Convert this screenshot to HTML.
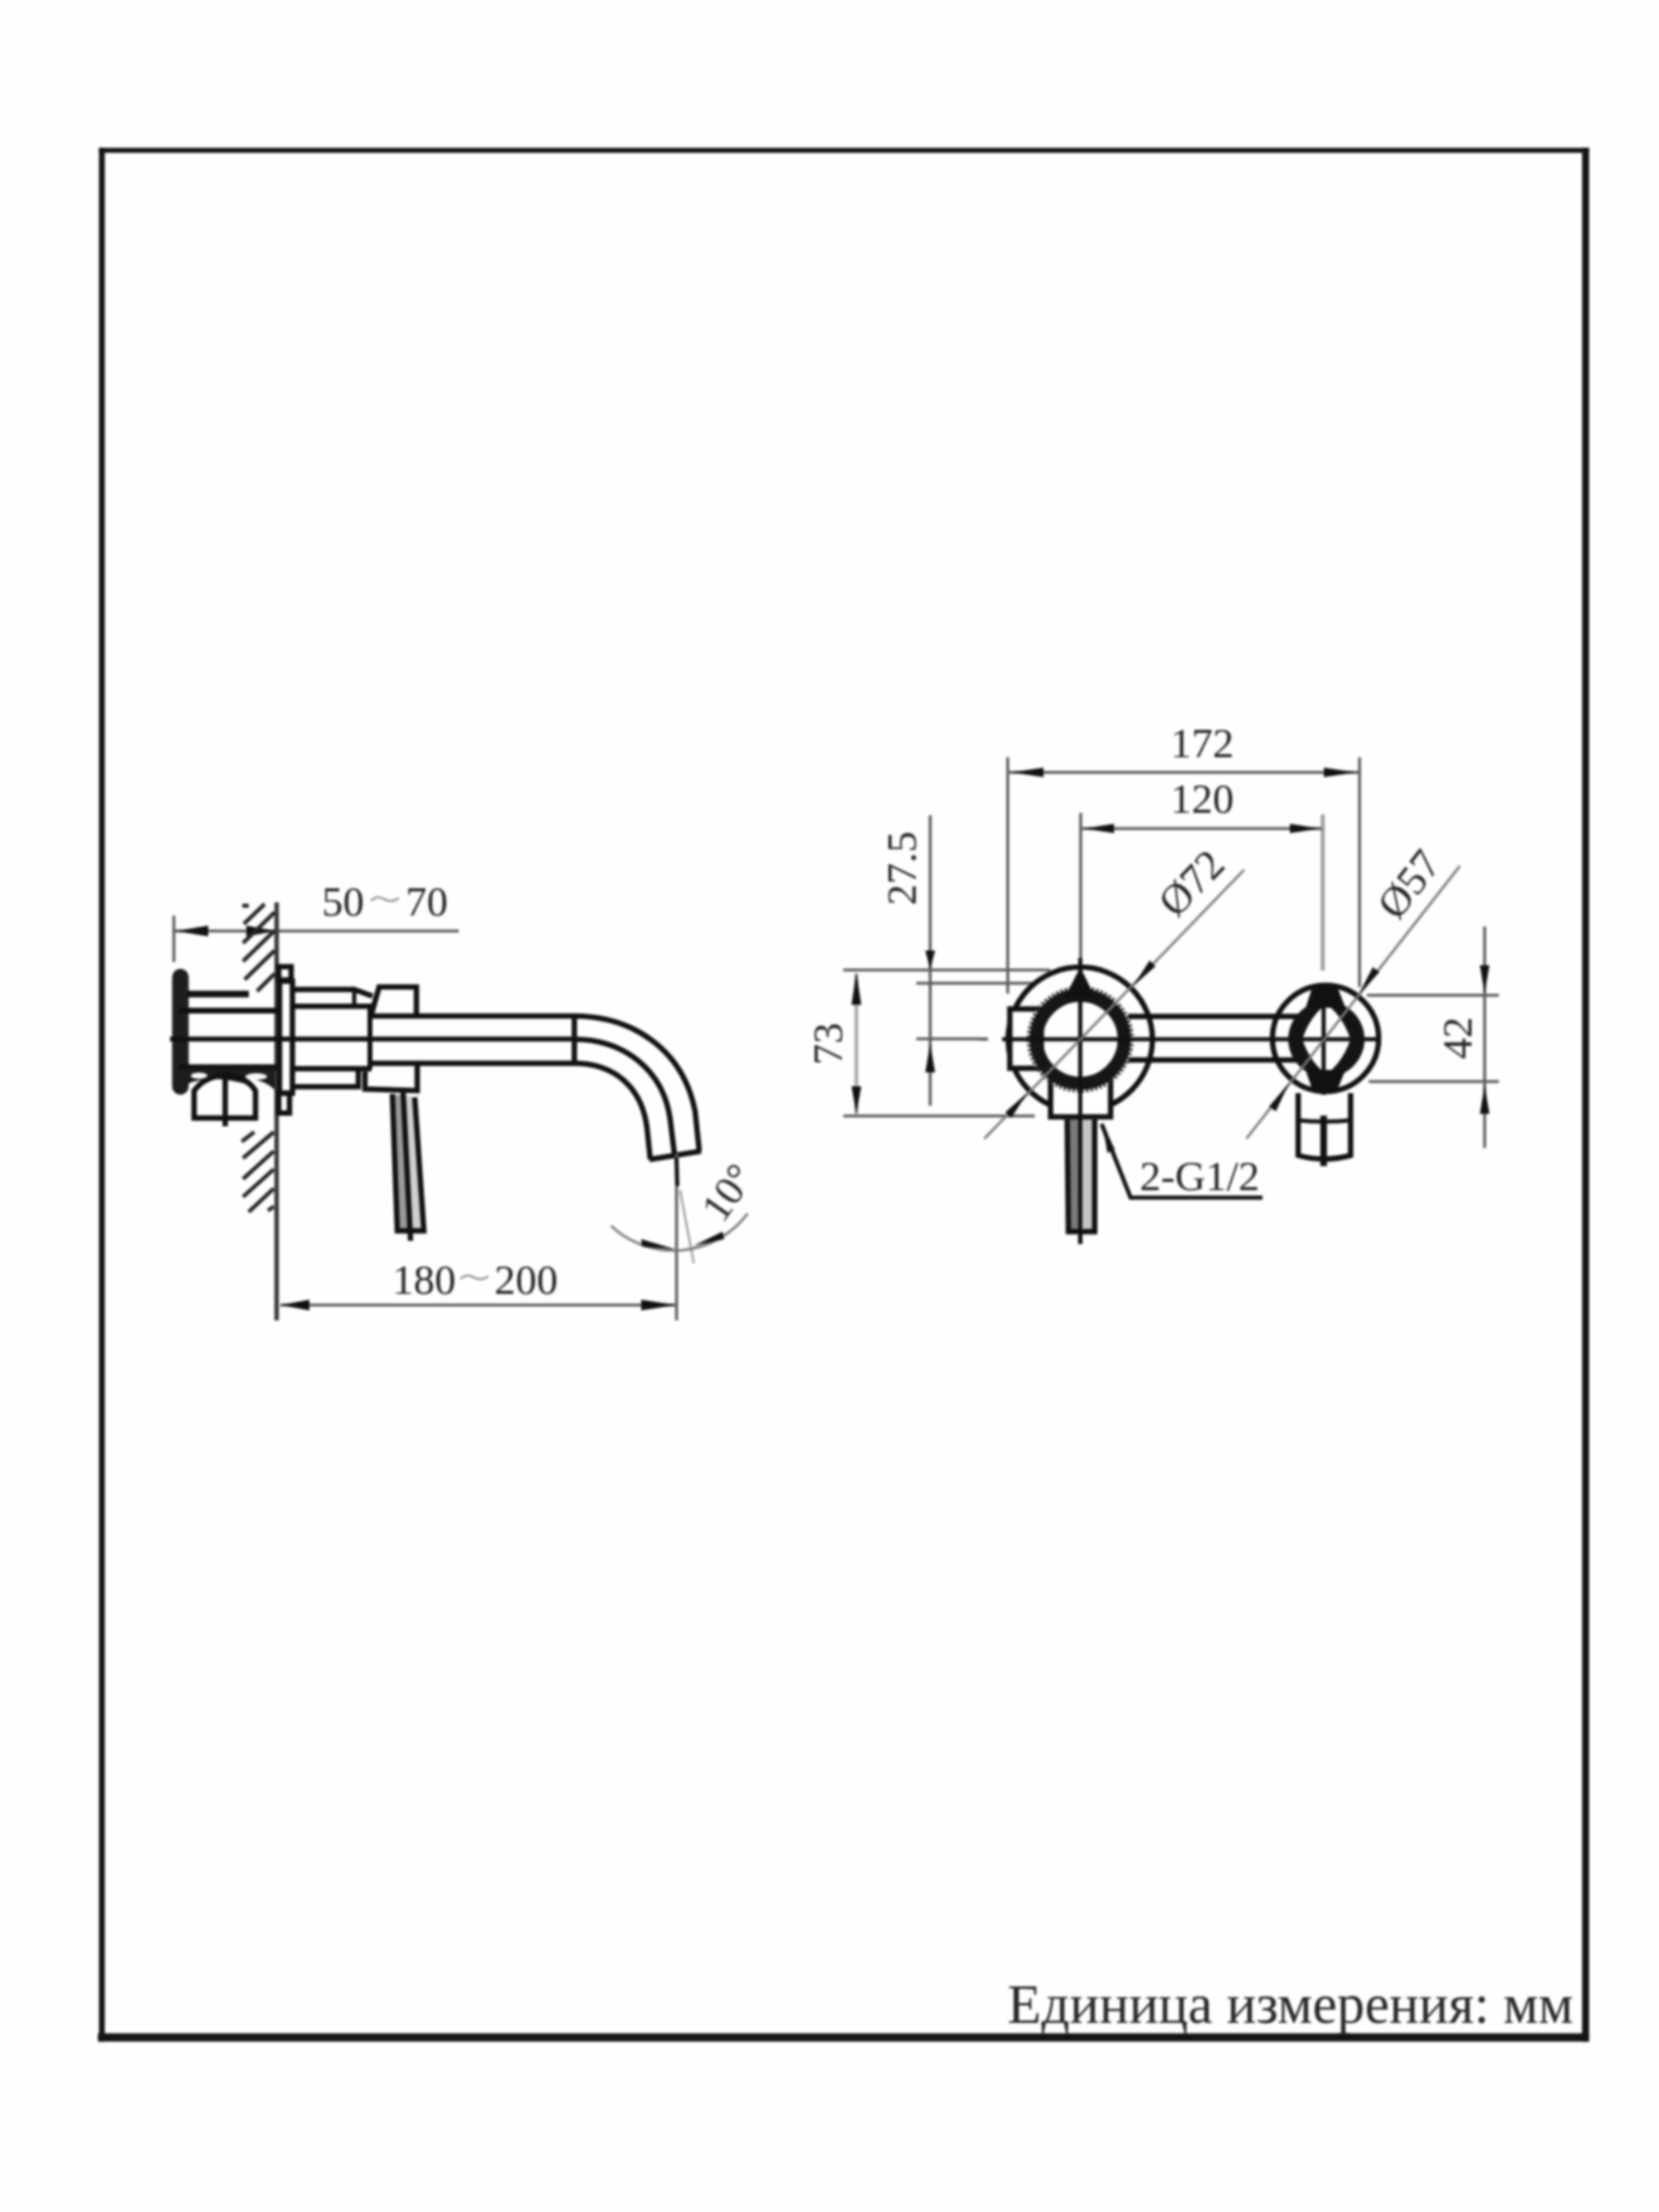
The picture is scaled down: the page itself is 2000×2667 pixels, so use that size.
<!DOCTYPE html>
<html><head><meta charset="utf-8"><title>drawing</title>
<style>
html,body{margin:0;padding:0;background:#fefefe;}
body{width:2000px;height:2667px;overflow:hidden;}
svg{display:block;filter:blur(1.5px);}
.o{stroke:#111;stroke-width:6.5;fill:none;}
.d{stroke:#5c5c5c;stroke-width:3.5;fill:none;}
.t{font-family:"Liberation Serif",serif;font-size:51px;fill:#262626;}
.ar{fill:#111;stroke:none;}
</style></head>
<body>
<svg width="2000" height="2667" viewBox="0 0 2000 2667">
<!-- frame -->
<g stroke="#141414">
<line x1="119.3" y1="181.2" x2="1915.5" y2="181.2" stroke-width="6"/>
<line x1="122.8" y1="178" x2="122.8" y2="2461.5" stroke-width="7"/>
<line x1="1911.5" y1="178" x2="1911.5" y2="2461.5" stroke-width="8.5"/>
<line x1="118" y1="2456.5" x2="1915.5" y2="2456.5" stroke-width="10"/>
</g>
<text x="1214.6" y="2438.5" font-family="Liberation Serif" font-size="66.8" fill="#282828">Единица измерения: мм</text>

<!-- LEFT DRAWING -->
<g id="left">
<!-- 50~70 dimension -->
<line class="d" x1="209.6" y1="1104" x2="209.6" y2="1160"/>
<line class="d" x1="210" y1="1122.5" x2="553" y2="1122.5"/>
<path class="ar" d="M212,1122.5 L251,1116 L251,1129 Z"/>
<path class="ar" d="M333,1122.5 L297,1116 L297,1129 Z"/>
<text class="t" x="388" y="1104">50</text>
<path d="M447,1086 q8,-7 16,-2 t18,-1" stroke="#8a8a8a" stroke-width="2.2" fill="none"/>
<text class="t" x="489" y="1104">70</text>

<!-- wall line -->
<line x1="333.5" y1="1088" x2="333.5" y2="1592" stroke="#3a3a3a" stroke-width="5.5"/>
<!-- hatching upper -->
<g stroke="#262626" stroke-width="4.8">
<line x1="292" y1="1092" x2="300" y2="1092"/>
<line x1="294" y1="1114" x2="319" y2="1090"/>
<line x1="293" y1="1137" x2="331" y2="1100"/>
<line x1="293" y1="1159" x2="331" y2="1122"/>
<line x1="295" y1="1181" x2="331" y2="1146"/>
<line x1="310" y1="1195" x2="331" y2="1174"/>
<!-- lower -->
<line x1="291.5" y1="1376.4" x2="306.5" y2="1364.8"/>
<line x1="293" y1="1396.4" x2="330" y2="1364.8"/>
<line x1="293" y1="1421.4" x2="330" y2="1388"/>
<line x1="293" y1="1443" x2="330" y2="1409.7"/>
<line x1="299.8" y1="1461.3" x2="330" y2="1433"/>
<line x1="323" y1="1459.6" x2="330" y2="1454.6"/>
</g>

<!-- flange -->
<rect x="207.5" y="1168" width="20" height="152" rx="10" fill="#1e1e1e"/>
<!-- tube from flange to wall -->
<g stroke="#111" fill="none">
<line x1="225" y1="1198.5" x2="300" y2="1198.5" stroke-width="8"/>
<line x1="215" y1="1218.4" x2="334" y2="1218.4" stroke-width="7"/>
<line x1="205" y1="1252.7" x2="692" y2="1252.7" stroke-width="6"/>
<line x1="215" y1="1286.7" x2="334" y2="1286.7" stroke-width="7"/>
<path d="M225,1303 Q260,1292 300,1305" stroke-width="6"/>
</g>
<!-- lower nut -->
<path d="M212,1289 L331,1289 L331,1314 Q318,1299 271.5,1297 Q228,1300 214,1316 Z" fill="#1c1c1c"/>
<ellipse cx="240" cy="1297" rx="10" ry="3.8" fill="#fafafa"/>
<ellipse cx="309" cy="1298" rx="13" ry="4" fill="#fafafa"/>
<path class="o" d="M234,1348 V1315 Q246,1298 271.5,1296 Q297,1298 308,1315 V1348 Z"/>
<line class="o" x1="271.5" y1="1292" x2="271.5" y2="1358" stroke-width="5"/>

<!-- escutcheon plate -->
<rect class="o" x="336" y="1165.5" width="15" height="16" stroke-width="5"/>
<rect class="o" x="337" y="1183" width="15.5" height="135" stroke-width="6.5"/>
<rect class="o" x="336" y="1318" width="13" height="24" stroke-width="5"/>

<!-- body between plate and handle block -->
<g class="o" stroke-width="7">
<path d="M355,1193 H427 L449,1201"/>
<line x1="427" y1="1193" x2="427" y2="1211" stroke-width="5"/>
<line x1="355" y1="1213.3" x2="448" y2="1213.3"/>
<line x1="355" y1="1288.4" x2="448" y2="1288.4"/>
<path d="M355,1310.3 H432 V1290"/>
<line x1="446" y1="1213" x2="446" y2="1288.4" stroke-width="6"/>
</g>
<!-- handle block -->
<g class="o">
<path d="M448,1222 L457,1190 H502 V1223"/>
<path d="M440,1292 V1313 L503,1315 V1283"/>
</g>
<!-- spout tube -->
<g class="o" stroke-width="7">
<line x1="448" y1="1225" x2="692" y2="1225"/>
<line x1="448" y1="1282" x2="692" y2="1282"/>
<line x1="692.4" y1="1222" x2="692.4" y2="1285"/>
</g>
<!-- spout curves -->
<g class="o" stroke-width="6.5">
<path d="M692,1225 C760,1225 823,1263 838,1340 L843,1388"/>
<path d="M692,1253 C752,1253 800,1290 808,1350 L813,1391"/>
<path d="M692,1282 C742,1282 774,1312 780,1360 L784,1398"/>
<line x1="783" y1="1398" x2="845" y2="1388"/>
</g>
<!-- lever -->
<path d="M475,1320 L487,1320 L495,1483 L481,1483 Z" fill="#9a9a9a"/>
<path d="M487,1320 L499,1323 L509,1483 L495,1483 Z" fill="#cfcfcf"/>
<g class="o" stroke-width="5">
<path d="M473,1319 L479,1484 H511 L500,1323"/>
<line x1="486" y1="1317" x2="495" y2="1496"/>
</g>

<!-- angle dims -->
<line class="d" x1="815.6" y1="1391" x2="815.6" y2="1592"/>
<path class="ar" d="M813,1396 L818,1396 L819,1430 L814,1430 Z"/>
<line x1="819.8" y1="1434.9" x2="836.4" y2="1523" stroke="#999" stroke-width="2.5"/>
<path d="M736.6,1478 A111,111 0 0 0 901.3,1463.2" stroke="#777" stroke-width="3" fill="none"/>
<path class="ar" d="M815,1506.5 L773,1494 L774,1503 Z"/>
<path class="ar" d="M836,1502 L871,1485 L873,1494 Z"/>
<text class="t" transform="translate(871,1476) rotate(-55)" style="font-size:50px">10°</text>

<!-- 180~200 -->
<line class="d" x1="338" y1="1573.5" x2="815" y2="1573.5"/>
<path class="ar" d="M338,1573.5 L373,1567 L373,1580 Z"/>
<path class="ar" d="M815,1573.5 L773,1567 L773,1580 Z"/>
<text class="t" x="473" y="1559.6">180</text>
<path d="M555,1542 q8,-7 16,-2 t18,-1" stroke="#8a8a8a" stroke-width="2.2" fill="none"/>
<text class="t" x="596" y="1559.6">200</text>
</g>

<!-- RIGHT DRAWING -->
<g id="right">
<!-- 172 -->
<line class="d" x1="1214.9" y1="913" x2="1214.9" y2="1198"/>
<line class="d" x1="1639" y1="913" x2="1639" y2="1190"/>
<line class="d" x1="1215" y1="931.2" x2="1639" y2="931.2"/>
<path class="ar" d="M1219,931.2 L1258,925.5 L1258,936.9 Z"/>
<path class="ar" d="M1635,931.2 L1596,925.5 L1596,936.9 Z"/>
<text class="t" x="1411" y="913.3">172</text>
<!-- 120 -->
<line class="d" x1="1302.8" y1="980" x2="1302.8" y2="1155"/>
<line x1="1594.6" y1="982" x2="1594.6" y2="1170" stroke="#a0a0a0" stroke-width="5"/>
<line class="d" x1="1303" y1="998.9" x2="1594" y2="998.9"/>
<path class="ar" d="M1306,998.9 L1343,993.2 L1343,1004.6 Z"/>
<path class="ar" d="M1592,998.9 L1555,993.2 L1555,1004.6 Z"/>
<text class="t" x="1411" y="979.8">120</text>
<!-- 27.5 -->
<line class="d" x1="1121.4" y1="983" x2="1121.4" y2="1333"/>
<path class="ar" d="M1121.4,1169 L1115.5,1146 L1127.3,1146 Z"/>
<path class="ar" d="M1121.4,1258 L1115.5,1293 L1127.3,1293 Z"/>
<line class="d" x1="1016.6" y1="1169.6" x2="1266" y2="1169.6"/>
<line class="d" x1="1104.7" y1="1185.4" x2="1246" y2="1185.4"/>
<line class="d" x1="1104.7" y1="1252.4" x2="1191" y2="1252.4"/>
<text class="t" transform="translate(1104,1091.5) rotate(-90)">27.5</text>
<!-- 73 -->
<line x1="1032.4" y1="1174" x2="1032.4" y2="1343" stroke="#aaa" stroke-width="4.5"/>
<path class="ar" d="M1032.4,1172 L1026.5,1211.6 L1038.3,1211.6 Z"/>
<path class="ar" d="M1032.4,1343 L1026.5,1309.8 L1038.3,1309.8 Z"/>
<line class="d" x1="1016.6" y1="1345.5" x2="1247.4" y2="1345.5"/>
<text class="t" transform="translate(1015,1284) rotate(-90)">73</text>
<!-- 42 -->
<line class="d" x1="1789.8" y1="1117" x2="1789.8" y2="1384"/>
<path class="ar" d="M1789.8,1198 L1784,1163.7 L1795.6,1163.7 Z"/>
<path class="ar" d="M1789.8,1308 L1784,1343 L1795.6,1343 Z"/>
<line class="d" x1="1648" y1="1200.1" x2="1807" y2="1200.1"/>
<line class="d" x1="1650" y1="1304" x2="1807" y2="1304"/>
<text class="t" transform="translate(1774,1277) rotate(-90)">42</text>

<!-- connecting bar -->
<g class="o" stroke-width="5">
<line x1="1360" y1="1225.6" x2="1565" y2="1225.6"/>
<line x1="1360" y1="1278" x2="1565" y2="1278"/>
</g>

<!-- big circle -->
<circle class="o" cx="1302.3" cy="1253.1" r="87"/>
<rect class="o" x="1217.4" y="1216.5" width="38" height="71.5" style="fill:#fff"/>
<rect class="o" x="1266.5" y="1302" width="72.4" height="44.6" style="fill:#fff"/>
<circle cx="1302.3" cy="1253.1" r="62.5" stroke="#3a3a3a" stroke-width="4" fill="none" stroke-dasharray="3 2.5"/>
<circle cx="1302.3" cy="1253.1" r="53" stroke="#161616" stroke-width="16" fill="none"/>
<path class="ar" d="M1302.3,1166 L1284,1202 L1320,1202 Z"/>
<!-- centre lines big -->
<line x1="1302.3" y1="1155" x2="1302.3" y2="1500" stroke="#111" stroke-width="5"/>
<line x1="1208" y1="1253.1" x2="1660" y2="1253.1" stroke="#111" stroke-width="5"/>
<line x1="1180" y1="1253.1" x2="1191" y2="1253.1" stroke="#666" stroke-width="3.5"/>
<!-- lever -->
<rect x="1289" y="1350" width="13" height="133" fill="#7a7a7a"/>
<rect x="1302" y="1350" width="15" height="133" fill="#c4c4c4"/>
<path class="o" d="M1286.5,1350 L1288,1485 H1319.7 L1319.7,1350" stroke-width="5.5"/>
<line x1="1302.3" y1="1346" x2="1302.3" y2="1500" stroke="#111" stroke-width="5"/>

<!-- small circle -->
<circle class="o" cx="1598" cy="1252" r="64" stroke-width="7"/>
<path fill="#141414" fill-rule="evenodd" d="M1553,1253 a46,46 0 1,0 92,0 a46,46 0 1,0 -92,0 Z M1570,1253 Q1580,1224 1599,1211 Q1618,1224 1628,1253 Q1618,1282 1599,1295 Q1580,1282 1570,1253 Z"/>
<path class="ar" d="M1583,1187 L1611,1187 L1622,1215 L1574,1215 Z"/>
<path class="ar" d="M1583,1317 L1611,1317 L1622,1290 L1574,1290 Z"/>
<line x1="1595.7" y1="1185" x2="1595.7" y2="1320" stroke="#111" stroke-width="5"/>
<path class="o" d="M1565,1318 V1393 Q1596,1402 1628.2,1393 V1318" />
<path d="M1565,1350.7 Q1596,1354 1628.2,1350.7" stroke="#111" stroke-width="5" fill="none"/>
<line x1="1595.7" y1="1345" x2="1595.7" y2="1406" stroke="#111" stroke-width="8"/>

<!-- leaders -->
<line x1="1499.8" y1="1048.8" x2="1186.7" y2="1372.9" stroke="#7a7a7a" stroke-width="3"/>
<path class="ar" d="M1366,1189 L1386,1158 L1393,1165 Z"/>
<path class="ar" d="M1239,1317 L1212,1341 L1219,1348 Z"/>
<text class="t" transform="translate(1418,1108) rotate(-46)">Ø72</text>
<line x1="1760" y1="1044" x2="1502.6" y2="1372.9" stroke="#7a7a7a" stroke-width="3"/>
<path class="ar" d="M1638,1199 L1655,1166 L1663,1172 Z"/>
<path class="ar" d="M1554,1306 L1530,1334 L1538,1340 Z"/>
<text class="t" transform="translate(1685,1111) rotate(-52)">Ø57</text>
<!-- 2-G1/2 -->
<path d="M1328,1355 L1363,1444 H1522" stroke="#111" stroke-width="5" fill="none"/>
<path class="ar" d="M1329,1355 L1335,1390 L1344,1386 Z"/>
<text class="t" x="1374" y="1435.3">2-G1/2</text>
</g>
</svg>
</body></html>
